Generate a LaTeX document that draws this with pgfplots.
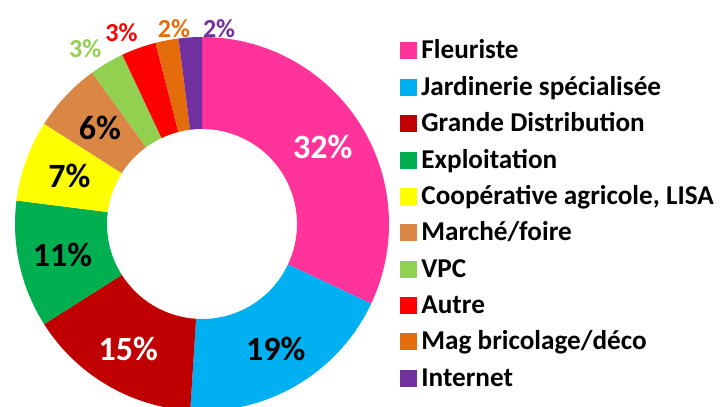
\documentclass[border=0pt]{standalone}
\usepackage{fontspec}
\setmainfont{Carlito}
\usepackage{pgfplots}
\usepackage{pgfplotstable}
\pgfplotsset{compat=1.18}
\definecolor{cPink}{RGB}{255,51,153}
\definecolor{cBlue}{RGB}{0,176,240}
\definecolor{cDRed}{RGB}{192,0,0}
\definecolor{cGreen}{RGB}{0,176,80}
\definecolor{cYel}{RGB}{255,255,0}
\definecolor{cBrown}{RGB}{218,135,70}
\definecolor{cLGr}{RGB}{146,208,80}
\definecolor{cRed}{RGB}{255,0,0}
\definecolor{cOra}{RGB}{228,108,10}
\definecolor{cPur}{RGB}{112,48,160}
\pgfplotstableread{
v  c      lc     lr   da
32 cPink  white  143  0
19 cBlue  black  145  0
15 cDRed  white  145  0
11 cGreen black  143  0
7  cYel   black  141  0
6  cBrown black  140  0
3  cLGr   cLGr   211  3
3  cRed   cRed   208  3
2  cOra   cOra   197  -2.6
2  cPur   cPur   196  -8.6
}\slices
\newcommand\inlab{\fontsize{17}{20}\selectfont\bfseries}
\newcommand\outlab{\fontsize{13}{15}\selectfont\bfseries}
\newcommand\legfont{\fontsize{13.6}{16}\selectfont\bfseries}
\begin{document}
\begin{tikzpicture}
\begin{axis}[x=0.5pt,y=0.5pt,xmin=0,xmax=720,ymin=0,ymax=407,
  hide axis, scale only axis, clip=true]
\xdef\cum{0}
\foreach \i in {0,...,9}{%
  \pgfplotstablegetelem{\i}{v}\of\slices\let\v\pgfplotsretval
  \pgfplotstablegetelem{\i}{c}\of\slices\let\col\pgfplotsretval
  \pgfplotstablegetelem{\i}{lc}\of\slices\let\lcol\pgfplotsretval
  \pgfplotstablegetelem{\i}{lr}\of\slices\let\lr\pgfplotsretval
  \pgfplotstablegetelem{\i}{da}\of\slices\let\da\pgfplotsretval
  \pgfmathsetmacro\aA{90-3.6*\cum}%
  \pgfmathsetmacro\aB{\aA-3.6*\v}%
  \pgfmathsetmacro\am{(\aA+\aB)/2+\da}%
  \pgfmathsetmacro\xa{202+187*cos(\aA)}%
  \pgfmathsetmacro\ya{183+187*sin(\aA)}%
  \pgfmathsetmacro\xb{202+95*cos(\aB)}%
  \pgfmathsetmacro\yb{183+95*sin(\aB)}%
  \pgfmathsetmacro\lx{202+\lr*cos(\am)}%
  \pgfmathsetmacro\ly{183+\lr*sin(\am)}%
  \pgfmathtruncatemacro\vi{\v}%
  \ifdim\lr pt>150pt \def\lf{\outlab}\else\def\lf{\inlab}\fi
  \edef\tmp{\noexpand\fill[\col] (axis cs:\xa,\ya) arc[start angle=\aA, end angle=\aB, radius=93.5pt] -- (axis cs:\xb,\yb) arc[start angle=\aB, end angle=\aA, radius=47.5pt] -- cycle;
    \noexpand\node[text=\lcol, font=\expandafter\noexpand\lf, inner sep=0pt] at (axis cs:\lx,\ly) {\vi\noexpand\%};}%
  \tmp
  \pgfmathsetmacro\nc{\cum+\v}\xdef\cum{\nc}%
}
\foreach \n/\cc [count=\k from 0] in {{Fleuriste}/cPink, {Jardinerie spécialisée}/cBlue, {Grande Distribution}/cDRed, {Exploitation}/cGreen, {Coopérative agricole, LISA}/cYel, {Marché/foire}/cBrown, {VPC}/cLGr, {Autre}/cRed, {Mag bricolage/déco}/cOra, {Internet}/cPur}{%
  \pgfmathsetmacro\yc{407-(51+36.35*\k)}%
  \pgfmathsetmacro\ys{\yc-8.5}\pgfmathsetmacro\yt{\yc+8.5}\pgfmathsetmacro\yl{\yc-8}%
  \edef\tmp{\noexpand\fill[\cc] (axis cs:400,\ys) rectangle (axis cs:417,\yt);
    \noexpand\node[anchor=base west, inner sep=0pt, font=\noexpand\legfont] at (axis cs:421,\yl) {\unexpanded\expandafter{\n}};}%
  \tmp
}
\end{axis}
\pgfresetboundingbox
\useasboundingbox (current axis.south west) rectangle (current axis.north east);
\end{tikzpicture}
\end{document}
